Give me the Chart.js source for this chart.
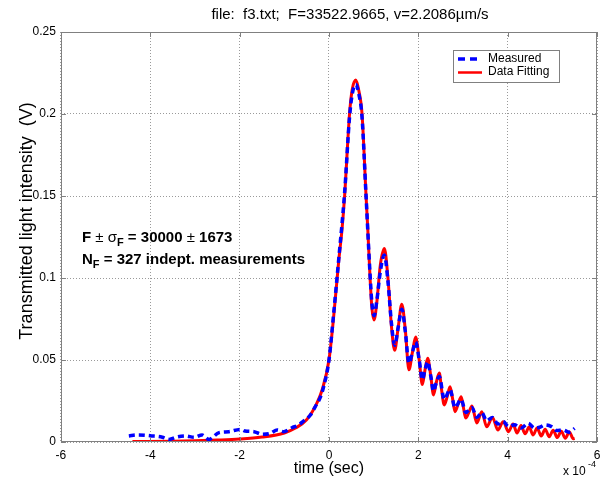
<!DOCTYPE html>
<html>
<head>
<meta charset="utf-8">
<script src="https://cdn.jsdelivr.net/npm/chart.js@4.4.1/dist/chart.umd.min.js"></script>
<style>
  html, body { margin: 0; padding: 0; background: #fff; }
</style>
</head>
<body>
<canvas id="chart" width="607" height="480"></canvas>
<script>
// time values are in units of 1e-4 s (axis shows "x 10^-4")
const MEAS_T = [
  -4.48, -4.30, -3.96, -3.73, -3.58, -3.41, -3.21, -3.02, -2.84, -2.69,
  -2.46, -2.24, -1.98, -1.88, -1.68, -1.50, -1.31, -1.16, -1.01, -0.83,
  -0.68, -0.57, -0.42, -0.31, -0.19, -0.12, 0.0, 0.10, 0.22, 0.35,
  0.46, 0.52, 0.60, 0.67, 0.74, 0.83, 0.92, 0.96, 1.01, 1.07,
  1.15, 1.24, 1.32, 1.40, 1.47, 1.55, 1.63, 1.71, 1.79, 1.87,
  1.94, 2.02, 2.09, 2.15, 2.21, 2.28, 2.34, 2.40, 2.47, 2.58,
  2.71, 2.82, 2.96, 3.06, 3.20, 3.31, 3.42, 3.53, 3.66, 3.78,
  3.90, 4.02, 4.15, 4.30, 4.46, 4.60, 4.72, 4.83, 4.98, 5.10,
  5.24, 5.38, 5.50
]
const MEAS_V = [
  0.0037, 0.0043, 0.0037, 0.0029, 0.0016, 0.0030, 0.0037, 0.0029, 0.0043, 0.0016,
  0.0057, 0.0063, 0.0077, 0.0067, 0.0063, 0.0047, 0.0053, 0.0073, 0.0063, 0.0087,
  0.0104, 0.0128, 0.0163, 0.0214, 0.0275, 0.0336, 0.050, 0.077, 0.112, 0.152,
  0.198, 0.212, 0.218, 0.212, 0.198, 0.150, 0.102, 0.085, 0.077, 0.086,
  0.104, 0.114, 0.098, 0.072, 0.059, 0.070, 0.081, 0.067, 0.048, 0.055,
  0.061, 0.050, 0.038, 0.044, 0.049, 0.040, 0.031, 0.036, 0.040, 0.026,
  0.032, 0.021, 0.026, 0.018, 0.021, 0.015, 0.018, 0.013, 0.015, 0.011,
  0.0125, 0.0095, 0.0105, 0.0085, 0.0114, 0.0085, 0.0090, 0.0104, 0.0094, 0.0070,
  0.0073, 0.0060, 0.0083
]

const FIT_T = [
  -4.40, -3.50, -3.00, -2.50, -2.00, -1.50, -1.00, -0.75, -0.50, -0.30,
  -0.15, 0.00, 0.10, 0.22, 0.29, 0.35, 0.46, 0.52, 0.60, 0.67,
  0.74, 0.83, 0.87, 0.92, 0.96, 1.01, 1.07, 1.15, 1.24, 1.32,
  1.40, 1.47, 1.55, 1.63, 1.71, 1.79, 1.87, 1.94, 2.02, 2.09,
  2.15, 2.21, 2.28, 2.34, 2.40, 2.47, 2.52, 2.58, 2.65, 2.71,
  2.77, 2.82, 2.89, 2.96, 3.01, 3.06, 3.13, 3.20, 3.31, 3.42,
  3.53, 3.66, 3.78, 3.90, 4.02, 4.12, 4.21, 4.30, 4.39, 4.48,
  4.57, 4.66, 4.75, 4.84, 4.93, 5.02, 5.11, 5.20, 5.29, 5.38,
  5.47, 5.50
]
const FIT_V = [
  0.0003, 0.0005, 0.0008, 0.0012, 0.0018, 0.0030, 0.0055, 0.0085, 0.0135, 0.0220,
  0.0320, 0.0500, 0.0750, 0.1110, 0.1290, 0.1500, 0.2000, 0.2150, 0.2207, 0.2140,
  0.2000, 0.1500, 0.1290, 0.1000, 0.0820, 0.0744, 0.0850, 0.1080, 0.1180, 0.1000,
  0.0700, 0.0560, 0.0700, 0.0840, 0.0680, 0.0440, 0.0550, 0.0640, 0.0500, 0.0350,
  0.0440, 0.0510, 0.0400, 0.0287, 0.0360, 0.0420, 0.0320, 0.0226, 0.0280, 0.0337,
  0.0260, 0.0185, 0.0230, 0.0276, 0.0210, 0.0146, 0.0180, 0.0220, 0.0116, 0.0185,
  0.0093, 0.0150, 0.0073, 0.0124, 0.0063, 0.0110, 0.0055, 0.0100, 0.0050, 0.0092,
  0.0043, 0.0085, 0.0037, 0.0078, 0.0032, 0.0072, 0.0027, 0.0066, 0.0023, 0.0061,
  0.0020, 0.0022
]

const X_TICKS = [-6, -4, -2, 0, 2, 4, 6]
const Y_TICKS = [0, 0.05, 0.1, 0.15, 0.2, 0.25]

const TITLE = "file:  f3.txt;  F=33522.9665, v=2.2086\u00b5m/s"
const X_LABEL = "time (sec)"
const Y_LABEL = "Transmitted light intensity  (V)"
const LEGEND_LABELS = ["Measured", "Data Fitting"]

const BLUE = "#0000ff"
const RED = "#ff0000"
const BOX = "#808080"
const FONT = "'Liberation Sans', Arial, sans-serif"

const toPoints = (ts, vs) => ts.map((t, i) => ({ x: t, y: vs[i] }))

// box, inward ticks, title, labels, legend and the text note, MATLAB-like
const matlabDecor = {
  id: "matlabDecor",
  afterDraw(chart) {
    const ctx = chart.ctx
    const a = chart.chartArea
    const xs = chart.scales.x
    const ys = chart.scales.y
    ctx.save()

    // axes box
    ctx.strokeStyle = BOX
    ctx.lineWidth = 1
    ctx.strokeRect(Math.round(a.left) + 0.5, Math.round(a.top) + 0.5,
      Math.round(a.right - a.left) - 1, Math.round(a.bottom - a.top) - 1)

    // inward tick marks on all four sides
    ctx.beginPath()
    X_TICKS.forEach(v => {
      const px = Math.round(xs.getPixelForValue(v)) + 0.5
      ctx.moveTo(px, a.bottom); ctx.lineTo(px, a.bottom - 5)
      ctx.moveTo(px, a.top); ctx.lineTo(px, a.top + 5)
    })
    Y_TICKS.forEach(v => {
      const py = Math.round(ys.getPixelForValue(v)) + 0.5
      ctx.moveTo(a.left, py); ctx.lineTo(a.left + 5, py)
      ctx.moveTo(a.right, py); ctx.lineTo(a.right - 5, py)
    })
    ctx.stroke()

    ctx.fillStyle = "#000"
    ctx.textBaseline = "alphabetic"

    // title
    ctx.font = "15px " + FONT
    ctx.textAlign = "center"
    ctx.fillText(TITLE, 350, 19)

    // x label and exponent
    ctx.font = "16px " + FONT
    ctx.fillText(X_LABEL, (a.left + a.right) / 2, 473)
    ctx.font = "12px " + FONT
    ctx.textAlign = "left"
    ctx.fillText("x 10", 563, 475)
    ctx.font = "9px " + FONT
    ctx.fillText("-4", 588, 467)

    // y label
    ctx.save()
    ctx.translate(26, 221)
    ctx.rotate(-Math.PI / 2)
    ctx.font = "18px " + FONT
    ctx.textAlign = "center"
    ctx.fillText(Y_LABEL, 0, 6)
    ctx.restore()

    // note with subscripts
    const drawRuns = (x, y, runs) => {
      runs.forEach(r => {
        ctx.font = r.font
        ctx.fillText(r.text, x, y + (r.dy || 0))
        x += ctx.measureText(r.text).width
      })
    }
    const B = "bold 15px " + FONT
    const S = "bold 11px " + FONT
    const P = "15px " + FONT
    ctx.textAlign = "left"
    drawRuns(82, 242, [
      { text: "F ", font: B }, { text: "\u00b1", font: P }, { text: " \u03c3", font: P },
      { text: "F", font: S, dy: 4 }, { text: " = 30000 ", font: B },
      { text: "\u00b1", font: P }, { text: " 1673", font: B }
    ])
    drawRuns(82, 264, [
      { text: "N", font: B }, { text: "F", font: S, dy: 4 },
      { text: " = 327 indept. measurements", font: B }
    ])

    // legend
    const lx = 453, ly = 50, lw = 106, lh = 32
    ctx.fillStyle = "#fff"
    ctx.fillRect(lx, ly, lw, lh)
    ctx.strokeStyle = BOX
    ctx.lineWidth = 1
    ctx.strokeRect(lx + 0.5, ly + 0.5, lw, lh)
    ctx.lineWidth = 3.5
    ctx.strokeStyle = BLUE
    ctx.beginPath()
    ctx.moveTo(458, 59); ctx.lineTo(465, 59)
    ctx.moveTo(470, 59); ctx.lineTo(477, 59)
    ctx.stroke()
    ctx.strokeStyle = RED
    ctx.lineWidth = 2.5
    ctx.beginPath()
    ctx.moveTo(458, 72.5); ctx.lineTo(482, 72.5)
    ctx.stroke()
    ctx.fillStyle = "#000"
    ctx.font = "12px " + FONT
    ctx.textBaseline = "middle"
    ctx.fillText(LEGEND_LABELS[0], 488, 59)
    ctx.fillText(LEGEND_LABELS[1], 488, 72)

    ctx.restore()
  }
}

const gridStyle = { color: "#9a9a9a", lineWidth: 1, drawTicks: false }
const tickFont = { family: FONT, size: 12 }

new Chart(document.getElementById("chart"), {
  type: "line",
  data: {
    datasets: [
      {
        label: LEGEND_LABELS[0],
        data: toPoints(MEAS_T, MEAS_V),
        borderColor: BLUE,
        borderWidth: 3.5,
        borderDash: [6, 4],
        borderCapStyle: "butt",
        cubicInterpolationMode: "monotone",
        pointRadius: 0,
        fill: false,
      },
      {
        label: LEGEND_LABELS[1],
        data: toPoints(FIT_T, FIT_V),
        borderColor: RED,
        borderWidth: 3,
        cubicInterpolationMode: "monotone",
        pointRadius: 0,
        fill: false,
      },
    ],
  },
  options: {
    responsive: false,
    animation: false,
    layout: { padding: { left: 27.6, right: 10, top: 32, bottom: 0 } },
    plugins: {
      legend: { display: false },
      title: { display: false },
      tooltip: { enabled: false },
    },
    scales: {
      x: {
        type: "linear",
        min: -6,
        max: 6,
        afterBuildTicks: s => { s.ticks = X_TICKS.map(v => ({ value: v })) },
        afterFit: s => { s.height = 38 },
        grid: gridStyle,
        border: { display: false, dash: [1, 2] },
        ticks: { color: "#000", font: tickFont, padding: 6, maxRotation: 0, callback: v => String(v) },
      },
      y: {
        type: "linear",
        min: 0,
        max: 0.25,
        afterBuildTicks: s => { s.ticks = Y_TICKS.map(v => ({ value: v })) },
        grid: gridStyle,
        border: { display: false, dash: [1, 2] },
        ticks: { color: "#000", font: tickFont, padding: 5, callback: v => String(+v.toFixed(2)) },
      },
    },
  },
  plugins: [matlabDecor],
})
</script>
</body>
</html>
